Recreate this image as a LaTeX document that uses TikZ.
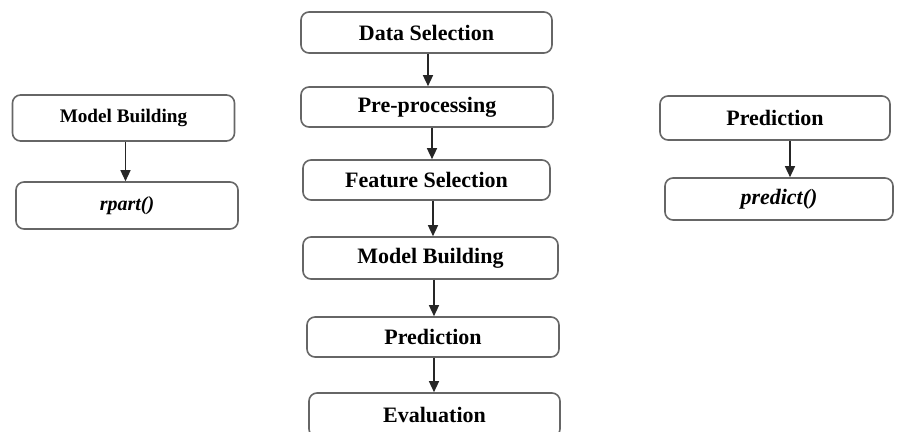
\documentclass[tikz,border=0pt]{standalone}
\usepackage{fontspec}
\setmainfont{Liberation Serif}
\usepackage{tikz}
\usetikzlibrary{arrows.meta,positioning,calc}

\begin{document}
\begin{tikzpicture}[x=0.5pt,y=-0.5pt]
\tikzstyle{fleche}=[-{Triangle[width=5pt,length=5.5pt]},line width=0.7pt,black!85]
\tikzstyle{etape}=[draw=black!60,line width=0.8pt,rounded corners=4pt,fill=white,
  inner sep=0pt,font=\fontsize{11}{13}\selectfont\bfseries]
\tikzstyle{fonction}=[etape,font=\fontsize{10}{12}\selectfont\bfseries\itshape]
\tikzstyle{petit}=[font=\fontsize{9.6}{12}\selectfont\bfseries]
\def\ColGauche{125}
\def\ColCentre{430}
\def\ColDroite{777}
\useasboundingbox (0,0) rectangle (902,432);
% branche de gauche
\node[etape,petit,minimum width=111pt,minimum height=23pt] (MBg) at ({\ColGauche-1.5},118) {Model Building};
\node[fonction,minimum width=111pt,minimum height=23.5pt] (rpart) at ({\ColGauche+2},205.5) {rpart()};
% chaine centrale
\node[etape,minimum width=125.5pt,minimum height=20.5pt] (DS) at ({\ColCentre-3.5},32.5) {Data Selection};
\node[etape,minimum width=126pt,minimum height=20pt] (PP) at ({\ColCentre-3},107) {Pre-processing};
\node[etape,minimum width=123.5pt,minimum height=20pt] (FS) at ({\ColCentre-3.5},180) {Feature Selection};
\node[etape,minimum width=127.5pt,minimum height=21pt] (MB) at ({\ColCentre+0.5},258) {Model Building};
\node[etape,minimum width=126pt,minimum height=20pt] (PR) at ({\ColCentre+3},337) {Prediction};
\node[etape,minimum width=125.5pt,minimum height=22pt] (EV) at ({\ColCentre+4.5},415) {Evaluation};
% branche de droite
\node[etape,minimum width=115pt,minimum height=22pt] (PRd) at ({\ColDroite-2},118) {Prediction};
\node[fonction,font=\fontsize{11}{13}\selectfont\bfseries\itshape,minimum width=114pt,minimum height=21pt] (predict) at ({\ColDroite+2},199) {predict()};
% fleches verticales (depart decale de quelques pixels)
\foreach \a/\b/\dx in {MBg/rpart/1,DS/PP/0.75,PP/FS/2.5,FS/MB/3.25,MB/PR/1.75,PR/EV/0.5,PRd/predict/7.5}{
  \coordinate (d\a) at ([xshift=\dx pt]\a.south);
  \draw[fleche] (d\a)--(d\a |- \b.north);
}
\end{tikzpicture}
\end{document}
